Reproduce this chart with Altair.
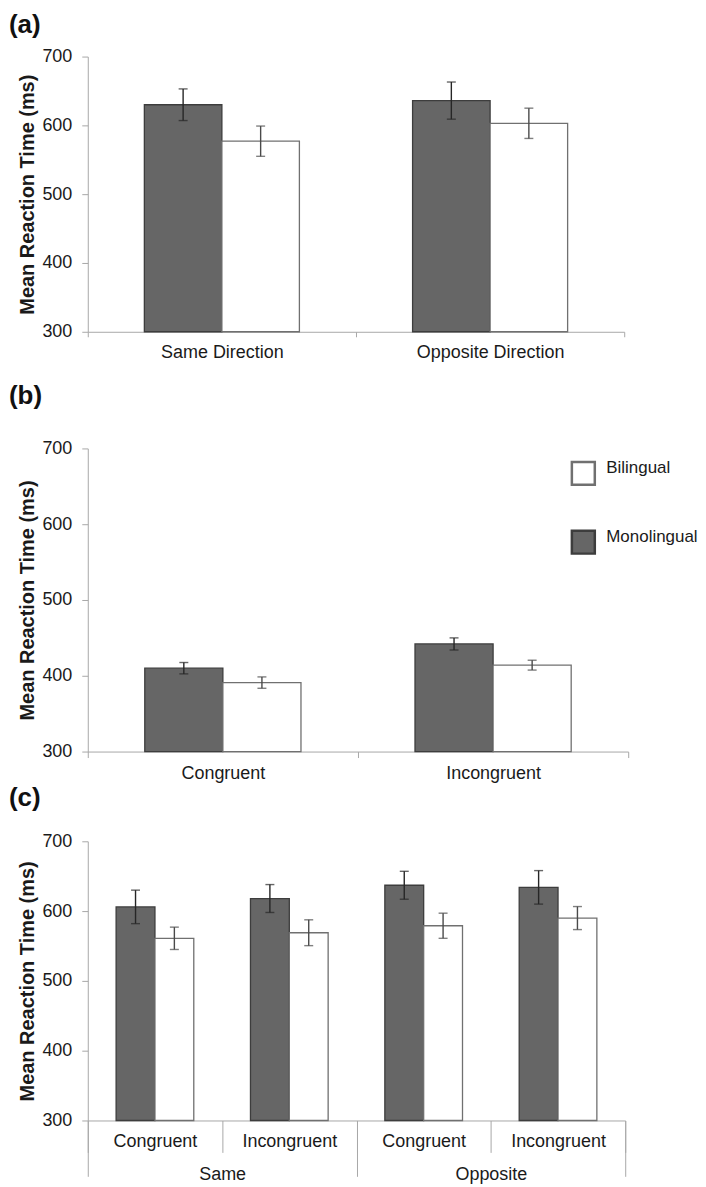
import altair as alt
import pandas as pd

# ---------------- data ----------------
groups = ["Monolingual", "Bilingual"]          # bar order inside each category
legend_order = ["Bilingual", "Monolingual"]    # legend order

a_conditions = ["Same Direction", "Opposite Direction"]
a_mono = [630, 636]
a_mono_err = [23, 27]
a_bi = [577, 603]
a_bi_err = [22, 22]

b_conditions = ["Congruent", "Incongruent"]
b_mono = [410, 442]
b_mono_err = [7.5, 8]
b_bi = [391, 414]
b_bi_err = [7.5, 6.5]

c_direction = ["Same", "Same", "Opposite", "Opposite"]
c_congruency = ["Congruent", "Incongruent", "Congruent", "Incongruent"]
c_mono = [606, 618, 637, 634]
c_mono_err = [24, 20, 20, 24]
c_bi = [561, 569, 579, 590]
c_bi_err = [16, 18.5, 18, 16.5]
c_outer = ["Same", "Opposite"]

y_ticks = [300, 400, 500, 600, 700]
y_title = "Mean Reaction Time (ms)"

FONT = "Liberation Sans"
TEXT = "#1a1a1a"
AXIS_COLOR = "#a8a8a8"


def make_df(keys, mono, mono_err, bi, bi_err, direction=None):
    rows = []
    for i, k in enumerate(keys):
        for g, v, e in (("Monolingual", mono[i], mono_err[i]), ("Bilingual", bi[i], bi_err[i])):
            r = dict(cond=k, group=g, value=v, lo=v - e, hi=v + e)
            if direction is not None:
                r["direction"] = direction[i]
            rows.append(r)
    return pd.DataFrame(rows)


df_a = make_df(a_conditions, a_mono, a_mono_err, a_bi, a_bi_err)
df_b = make_df(b_conditions, b_mono, b_mono_err, b_bi, b_bi_err)
c_keys = [f"{d}|{c}" for d, c in zip(c_direction, c_congruency)]
df_c = make_df(c_keys, c_mono, c_mono_err, c_bi, c_bi_err, c_direction)

yscale = alt.Scale(domain=[300, 700], nice=False, zero=False)
y_axis = alt.Axis(values=y_ticks, title=y_title, grid=False, tickSize=6, labelPadding=10,
                  titlePadding=4, domainColor=AXIS_COLOR, tickColor=AXIS_COLOR,
                  labelFont=FONT, labelFontSize=18, labelColor=TEXT,
                  titleFont=FONT, titleFontSize=20, titleFontWeight="bold", titleColor=TEXT)

fill_scale = alt.Scale(domain=legend_order, range=["#ffffff", "#666666"])
stroke_scale = alt.Scale(domain=legend_order, range=["#707070", "#3d3d3d"])
err_scale = alt.Scale(domain=legend_order, range=["#4a4a4a", "#262626"])


def panel(df, order, width, height, label, title_offset, x_axis, legend=None):
    x = alt.X("cond:N", sort=order, scale=alt.Scale(paddingInner=0, paddingOuter=0), axis=x_axis)
    xo = alt.XOffset("group:N", sort=groups, scale=alt.Scale(paddingInner=0, paddingOuter=0.73))
    base = alt.Chart(df)
    bars = base.mark_bar(strokeWidth=1.3).encode(
        x=x, xOffset=xo,
        y=alt.Y("value:Q", scale=yscale, axis=y_axis),
        y2=alt.datum(300),
        fill=alt.Fill("group:N", scale=fill_scale, legend=legend),
        stroke=alt.Stroke("group:N", scale=stroke_scale, legend=None),
    )
    color = alt.Color("group:N", scale=err_scale, legend=None)
    rules = base.mark_rule(strokeWidth=1.4).encode(
        x=x, xOffset=xo, y=alt.Y("lo:Q", scale=yscale, axis=y_axis), y2="hi:Q", color=color)
    cap_lo = base.mark_tick(orient="horizontal", size=9, thickness=1.4).encode(
        x=x, xOffset=xo, y=alt.Y("lo:Q", scale=yscale, axis=y_axis), color=color)
    cap_hi = base.mark_tick(orient="horizontal", size=9, thickness=1.4).encode(
        x=x, xOffset=xo, y=alt.Y("hi:Q", scale=yscale, axis=y_axis), color=color)
    layer = alt.layer(bars, rules, cap_lo, cap_hi).resolve_scale(color="independent")
    return layer, dict(width=width, height=height,
                       title=alt.TitleParams(text=label, anchor="start", frame="group", fontSize=26,
                                             fontWeight="bold", font=FONT, color="#111111",
                                             dx=-79, offset=title_offset))


common_x = dict(tickBand="extent", labelAngle=0, domainColor=AXIS_COLOR, tickColor=AXIS_COLOR,
                labelFont=FONT, labelFontSize=18, labelColor=TEXT)

# panel (a)
xa = alt.Axis(title=" ", titleFontSize=10, titlePadding=8, tickSize=5, labelPadding=7, **common_x)
pa, props_a = panel(df_a, a_conditions, 538, 276, "(a)", 10, xa)
pa = pa.properties(**props_a)

# panel (b)
xb = alt.Axis(title=None, tickSize=6, labelPadding=7, **common_x)
leg = alt.Legend(orient="none", legendX=484, legendY=12, title=None, symbolType="square",
                 symbolSize=529, symbolStrokeColor="#111111", symbolStrokeWidth=2.5,
                 labelFont=FONT, labelFontSize=17, labelColor=TEXT, labelOffset=10,
                 rowPadding=35, labelBaseline="alphabetic")
pb, props_b = panel(df_b, b_conditions, 542, 304, "(b)", 31, xb, legend=leg)
pb = pb.properties(**props_b)

# panel (c)
xc = alt.Axis(title=None, tickSize=32, labelPadding=-19.5,
              labelExpr="split(datum.label, '|')[1]", **common_x)
pc_inner, props_c = panel(df_c, c_keys, 539, 280, "(c)", 21, xc)
outer = alt.Chart(pd.DataFrame({"direction": c_outer})).mark_point(opacity=0).encode(
    x=alt.X("direction:N", sort=c_outer, scale=alt.Scale(paddingInner=0, paddingOuter=0),
            axis=alt.Axis(orient="bottom", title=None, domain=False, tickSize=56,
                          labelPadding=-10.5, **common_x)))
pc = alt.layer(pc_inner, outer).resolve_scale(x="independent").properties(**props_c)

chart = alt.vconcat(pa, pb, pc, spacing=3).resolve_scale(
    x="independent", y="independent", fill="independent", stroke="independent",
    color="independent", xOffset="independent"
).properties(
    padding={"left": 1, "top": 2, "right": 0, "bottom": 0}
).configure(background="white").configure_view(strokeWidth=0, stroke="transparent")

chart.save("out.html", embed_options={"renderer": "svg", "actions": False})
